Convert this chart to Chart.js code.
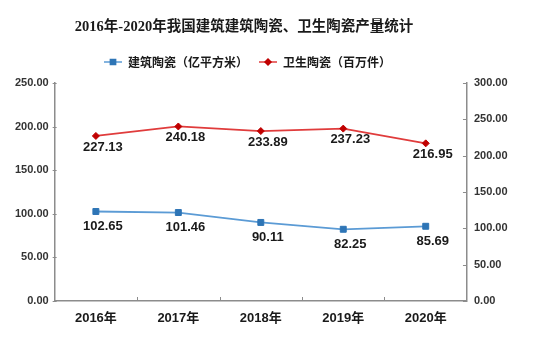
<!DOCTYPE html>
<html><head><meta charset="utf-8">
<script src="https://cdn.jsdelivr.net/npm/chart.js@4/dist/chart.umd.min.js"></script>
<style>html,body{margin:0;padding:0;background:#fff;}#wrap{width:550px;height:354px;position:relative;}</style>
</head><body><div id="wrap"><canvas id="c" width="550" height="354"></canvas></div>
<script>
const titleText = '2016年-2020年我国建筑建筑陶瓷、卫生陶瓷产量统计';
const categories = ['2016年', '2017年', '2018年', '2019年', '2020年'];
const seriesNames = ['建筑陶瓷（亿平方米）', '卫生陶瓷（百万件）'];
const architecturalCeramics = [102.65, 101.46, 90.11, 82.25, 85.69];
const sanitaryCeramics = [227.13, 240.18, 233.89, 237.23, 216.95];
const leftAxisRange = [0, 250];
const rightAxisRange = [0, 300];
const tickStep = 50;

const axisColor = '#8c8c8c';

const titleLegendPlugin = {
  id: 'titleLegend',
  afterDraw(chart) {
    const ctx = chart.ctx;
    ctx.save();
    ctx.fillStyle = '#1a1a1a';
    ctx.font = 'bold 14.5px "Liberation Serif", "Noto Sans CJK SC", serif';
    ctx.textAlign = 'center';
    ctx.textBaseline = 'middle';
    ctx.fillText(titleText, 244, 27);
    let x = 104;
    const y = 62;
    ctx.font = 'bold 12px "Noto Sans CJK SC", sans-serif';
    ctx.textAlign = 'left';
    chart.data.datasets.forEach(ds => {
      ctx.strokeStyle = ds.borderColor;
      ctx.lineWidth = 1.5;
      ctx.beginPath(); ctx.moveTo(x, y); ctx.lineTo(x + 18, y); ctx.stroke();
      ctx.fillStyle = ds.pointBackgroundColor;
      ctx.strokeStyle = ds.pointBorderColor;
      Chart.helpers.drawPoint(ctx, {pointStyle: ds.pointStyle, radius: ds.pointRadius - 0.5, rotation: 0, borderWidth: 1}, x + 9, y);
      ctx.fillStyle = '#1a1a1a';
      ctx.fillText(ds.label, x + 24, y + 0.5);
      x += 24 + ctx.measureText(ds.label).width + 11;
    });
    ctx.restore();
  }
};

// inside tick marks (Excel style), placed from the library's scales
const insideTicksPlugin = {
  id: 'insideTicks',
  afterDraw(chart) {
    const ctx = chart.ctx;
    const a = chart.chartArea;
    ctx.save();
    ctx.strokeStyle = axisColor;
    ctx.lineWidth = 1;
    const len = 4;
    const xs = chart.scales.x;
    const n = xs.ticks.length;
    const step = n > 1 ? xs.getPixelForTick(1) - xs.getPixelForTick(0) : a.right - a.left;
    for (let i = 1; i < n; i++) {
      const px = Math.round(xs.getPixelForTick(i) - step / 2) + 0.5;
      ctx.beginPath(); ctx.moveTo(px, a.bottom); ctx.lineTo(px, a.bottom - len); ctx.stroke();
    }
    const ys = chart.scales.y;
    ys.ticks.forEach((t, i) => {
      const py = Math.round(ys.getPixelForTick(i)) + 0.5;
      ctx.beginPath(); ctx.moveTo(a.left - 2, py); ctx.lineTo(a.left + 2, py); ctx.stroke();
    });
    const y1 = chart.scales.y1;
    y1.ticks.forEach((t, i) => {
      const py = Math.round(y1.getPixelForTick(i)) + 0.5;
      ctx.beginPath(); ctx.moveTo(a.right, py); ctx.lineTo(a.right - len, py); ctx.stroke();
    });
    ctx.restore();
  }
};

const dataLabelPlugin = {
  id: 'dataLabels',
  afterDatasetsDraw(chart) {
    const ctx = chart.ctx;
    ctx.save();
    ctx.font = 'bold 13px Arial, "Liberation Sans", sans-serif';
    ctx.fillStyle = '#1a1a1a';
    ctx.textAlign = 'center';
    ctx.textBaseline = 'middle';
    chart.data.datasets.forEach((ds, i) => {
      const meta = chart.getDatasetMeta(i);
      meta.data.forEach((pt, j) => {
        ctx.fillText(ds.data[j].toFixed(2), pt.x + 7, pt.y + ds.labelOffset);
      });
    });
    ctx.restore();
  }
};

const tickFont = {family: 'Arial, "Liberation Sans", sans-serif', size: 11, weight: 'bold'};

new Chart(document.getElementById('c'), {
  type: 'line',
  data: {
    labels: categories,
    datasets: [
      {
        label: seriesNames[0], data: architecturalCeramics, yAxisID: 'y',
        borderColor: '#5b9bd5', borderWidth: 1.8, pointStyle: 'rect', pointRadius: 4.2,
        pointBackgroundColor: '#2e75b6', pointBorderColor: '#2e75b6', pointBorderWidth: 1,
        tension: 0, labelOffset: 15
      },
      {
        label: seriesNames[1], data: sanitaryCeramics, yAxisID: 'y1',
        borderColor: '#e03c3c', borderWidth: 1.8, pointStyle: 'rectRot', pointRadius: 3.5,
        pointBackgroundColor: '#c00000', pointBorderColor: '#c00000', pointBorderWidth: 1,
        tension: 0, labelOffset: 11
      }
    ]
  },
  options: {
    responsive: false,
    devicePixelRatio: 1,
    animation: false,
    layout: {padding: {top: 83, left: 9, right: 35.4, bottom: 17.4}},
    plugins: {legend: {display: false}, title: {display: false}, tooltip: {enabled: false}},
    scales: {
      x: {
        offset: true,
        grid: {offset: true, display: true, drawOnChartArea: false, drawTicks: false, tickLength: 4},
        border: {color: axisColor, width: 1.5},
        ticks: {font: {family: 'Arial, "Noto Sans CJK SC", sans-serif', size: 13, weight: 'bold'}, color: '#1a1a1a', padding: 10, maxRotation: 0}
      },
      y: {
        position: 'left', min: leftAxisRange[0], max: leftAxisRange[1],
        grid: {drawOnChartArea: false, drawTicks: false, tickLength: 4},
        border: {color: axisColor, width: 1.5},
        ticks: {stepSize: tickStep, font: tickFont, color: '#333', padding: 6, callback: v => v.toFixed(2)}
      },
      y1: {
        position: 'right', min: rightAxisRange[0], max: rightAxisRange[1],
        grid: {drawOnChartArea: false, drawTicks: false, tickLength: 4},
        border: {color: axisColor, width: 1.5},
        ticks: {stepSize: tickStep, font: tickFont, color: '#333', padding: 7, callback: v => v.toFixed(2)}
      }
    }
  },
  plugins: [dataLabelPlugin, insideTicksPlugin, titleLegendPlugin]
});
</script></body></html>
